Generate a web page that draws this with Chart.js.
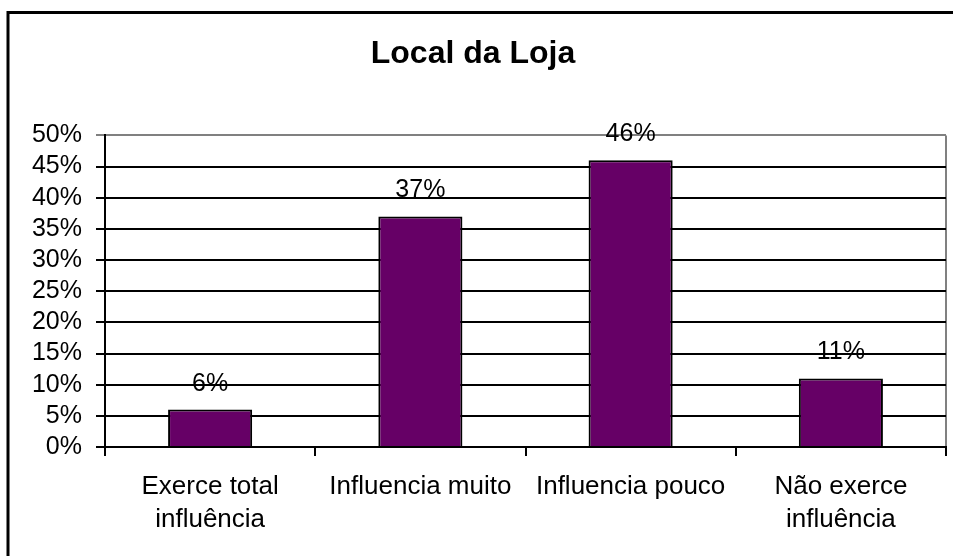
<!DOCTYPE html>
<html>
<head>
<meta charset="utf-8">
<title>Local da Loja</title>
<script src="https://cdn.jsdelivr.net/npm/chart.js@4"></script>
<style>
  body { margin: 0; background: #fff; }
  canvas { display: block; }
</style>
</head>
<body>
<canvas id="chart" width="953" height="556"></canvas>
<script>
// Chart data
const categories = [['Exerce total', 'influência'], 'Influencia muito', 'Influencia pouco', ['Não exerce', 'influência']];
const values = [6, 37, 46, 11]; // percent
const yTicksMax = 50;
const yTicksStep = 5;

const fontFamily = '"Liberation Sans", Arial, sans-serif';

// Frame (top + left lines) and gray plot border
const framePlugin = {
    id: 'frame',
    beforeDraw(chart) {
        const ctx = chart.ctx;
        const a = chart.chartArea;
        ctx.save();
        ctx.strokeStyle = '#000';
        ctx.lineWidth = 3;
        ctx.beginPath();
        ctx.moveTo(8, 556);
        ctx.lineTo(8, 12.5);
        ctx.lineTo(953, 12.5);
        ctx.stroke();
        ctx.strokeStyle = '#808080';
        ctx.lineWidth = 2;
        ctx.beginPath();
        ctx.moveTo(a.right, a.top);
        ctx.lineTo(a.right, a.bottom);
        ctx.stroke();
        ctx.restore();
    }
};

// Value labels above bars
const valueLabels = {
    id: 'valueLabels',
    afterDatasetsDraw(chart) {
        const ctx = chart.ctx;
        const meta = chart.getDatasetMeta(0);
        ctx.save();
        ctx.font = '25px ' + fontFamily;
        ctx.fillStyle = '#000';
        ctx.textAlign = 'center';
        ctx.textBaseline = 'alphabetic';
        meta.data.forEach((bar, i) => {
            ctx.fillText(values[i] + '%', bar.x, bar.y - 19);
        });
        ctx.restore();
    }
};

const ctx = document.getElementById('chart').getContext('2d');
new Chart(ctx, {
    type: 'bar',
    data: {
        labels: categories,
        datasets: [{
            data: values,
            backgroundColor: '#660066',
            borderColor: '#000',
            borderWidth: 2,
            categoryPercentage: 1,
            barPercentage: 0.4
        }]
    },
    options: {
        responsive: false,
        animation: false,
        layout: { padding: { left: 0, right: 7, top: 0, bottom: 0 } },
        plugins: {
            legend: { display: false },
            tooltip: { enabled: false },
            title: {
                display: true,
                text: 'Local da Loja',
                color: '#000',
                font: { family: fontFamily, size: 32, weight: 'bold', lineHeight: 1.2 },
                padding: { top: 35, bottom: 62 }
            }
        },
        scales: {
            x: {
                grid: {
                    offset: true,
                    drawOnChartArea: false,
                    drawTicks: true,
                    tickLength: 9,
                    color: (c) => c.index === categories.length ? '#808080' : '#000',
                    lineWidth: 2
                },
                border: { display: true, color: '#000', width: 2 },
                ticks: {
                    color: '#000',
                    padding: 14,
                    maxRotation: 0,
                    autoSkip: false,
                    font: { family: fontFamily, size: 26, lineHeight: 1.27 }
                },
                afterFit: (scale) => { scale.height = 109; }
            },
            y: {
                min: 0,
                max: yTicksMax,
                grid: {
                    color: (c) => c.tick && c.tick.value === yTicksMax ? '#808080' : '#000',
                    lineWidth: 2,
                    tickLength: 9,
                    drawTicks: true
                },
                border: { display: true, color: '#000', width: 2 },
                ticks: {
                    stepSize: yTicksStep,
                    autoSkip: false,
                    color: '#000',
                    padding: 14,
                    font: { family: fontFamily, size: 25 },
                    callback: (v) => v + '%'
                },
                afterFit: (scale) => { scale.width = 105; }
            }
        }
    },
    plugins: [framePlugin, valueLabels]
});
</script>
</body>
</html>
